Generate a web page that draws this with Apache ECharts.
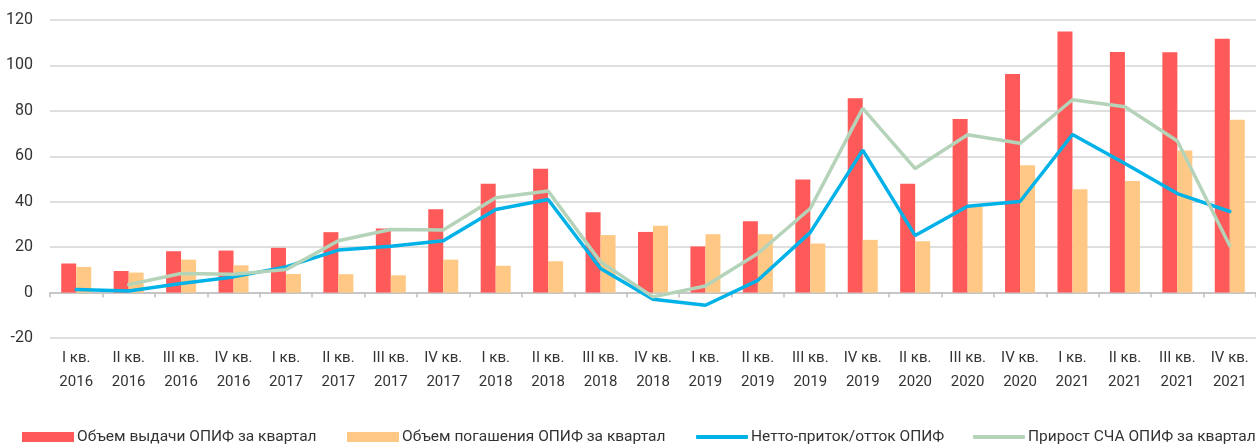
<!DOCTYPE html>
<html>
<head>
<meta charset="utf-8">
<script src="https://cdn.jsdelivr.net/npm/echarts@6/dist/echarts.min.js"></script>
<style>
  html, body { margin: 0; padding: 0; background: #fff; }
  #chart { width: 1256px; height: 446px; }
</style>
</head>
<body>
<div id="chart"></div>
<script>
  // кварталы (I кв. 2020 в исходнике отсутствует)
  const categories = [
    'I кв.\n2016', 'II кв.\n2016', 'III кв.\n2016', 'IV кв.\n2016',
    'I кв.\n2017', 'II кв.\n2017', 'III кв.\n2017', 'IV кв.\n2017',
    'I кв.\n2018', 'II кв.\n2018', 'III кв.\n2018', 'IV кв.\n2018',
    'I кв.\n2019', 'II кв.\n2019', 'III кв.\n2019', 'IV кв.\n2019',
    'II кв.\n2020', 'III кв.\n2020', 'IV кв.\n2020',
    'I кв.\n2021', 'II кв.\n2021', 'III кв.\n2021', 'IV кв.\n2021'
  ]
  const issued = [12.8, 9.5, 18.2, 18.5, 19.7, 26.6, 28.2, 36.7, 47.9, 54.5, 35.4, 26.7,
    20.3, 31.4, 49.8, 85.5, 47.9, 76.4, 96.2, 114.9, 105.9, 105.8, 111.8]
  const redeemed = [11.3, 8.8, 14.5, 12.0, 8.2, 8.1, 7.6, 14.5, 11.8, 13.8, 25.3, 29.4,
    25.7, 25.7, 21.6, 23.2, 22.6, 37.7, 56.1, 45.5, 49.1, 62.6, 76.1]
  const netFlow = [1.3, 0.7, 4.0, 6.9, 11.3, 18.7, 20.4, 22.8, 36.6, 41.0, 10.6, -2.9,
    -5.6, 5.4, 26.5, 62.7, 25.1, 38.0, 40.1, 69.6, 56.8, 43.6, 35.7]
  const navGrowth = [null, 3.5, 8.4, 8.1, 10.1, 22.8, 27.8, 27.5, 41.7, 44.7, 13.5, -1.9,
    2.9, 17.2, 37.0, 81.1, 54.6, 69.5, 65.7, 84.9, 81.8, 66.7, 20.6]
  const names = [
    'Объем выдачи ОПИФ за квартал',
    'Объем погашения ОПИФ за квартал',
    'Нетто-приток/отток ОПИФ',
    'Прирост СЧА ОПИФ за квартал'
  ]

  const font = 'Roboto, "Noto Sans", sans-serif'
  const textColor = '#333'

  // отдельная легенда на каждый ряд, чтобы поставить их как в оригинале
  function legendAt (left, name, isLine) {
    return {
      left: left,
      top: 429,
      data: [name],
      icon: isLine ? 'roundRect' : 'rect',
      itemWidth: 52,
      itemHeight: isLine ? 4 : 10,
      itemGap: 0,
      padding: 0,
      textStyle: { fontFamily: font, fontSize: 15.5, color: textColor, padding: [0, 0, 0, -2] }
    }
  }

  let myChart = echarts.init(document.getElementById('chart'))
  let option = {
    animation: false,
    backgroundColor: '#fff',
    legend: [
      legendAt(22, names[0], false),
      legendAt(347, names[1], false),
      legendAt(696, names[2], true),
      legendAt(973, names[3], true)
    ],
    grid: {
      left: 50,
      top: 20,
      width: 1213,
      height: 318
    },
    xAxis: [
      {
        type: 'category',
        data: categories,
        axisLine: { onZero: true, lineStyle: { color: '#bfbfbf', width: 1.5 } },
        axisTick: { show: true, length: 5, lineStyle: { color: '#bfbfbf', width: 1.5 } },
        axisLabel: { show: false }
      },
      {
        type: 'category',
        data: categories,
        position: 'bottom',
        axisLine: { show: false, onZero: false },
        axisTick: { show: false },
        axisLabel: {
          show: true,
          interval: 0,
          margin: 8,
          fontFamily: font,
          fontSize: 15,
          lineHeight: 24,
          color: textColor
        }
      }
    ],
    yAxis: {
      type: 'value',
      min: -20,
      max: 120,
      interval: 20,
      axisLine: { show: false },
      axisTick: { show: false },
      axisLabel: { margin: 17, fontFamily: font, fontSize: 16, color: textColor },
      splitLine: { lineStyle: { color: '#d4d4d4', width: 1.5 } }
    },
    series: [
      {
        name: names[0],
        type: 'bar',
        data: issued,
        barWidth: 15,
        barGap: '0%',
        itemStyle: { color: '#ff5a5a' }
      },
      {
        name: names[1],
        type: 'bar',
        data: redeemed,
        barWidth: 15,
        barGap: '0%',
        itemStyle: { color: '#ffc985' }
      },
      {
        name: names[2],
        type: 'line',
        data: netFlow,
        symbol: 'none',
        lineStyle: { color: '#00b2e8', width: 3.5, cap: 'round' },
        itemStyle: { color: '#00b2e8' }
      },
      {
        name: names[3],
        type: 'line',
        data: navGrowth,
        symbol: 'none',
        lineStyle: { color: '#b4d3b9', width: 3.5, cap: 'round' },
        itemStyle: { color: '#b4d3b9' }
      }
    ]
  }
  myChart.setOption(option)
</script>
</body>
</html>
